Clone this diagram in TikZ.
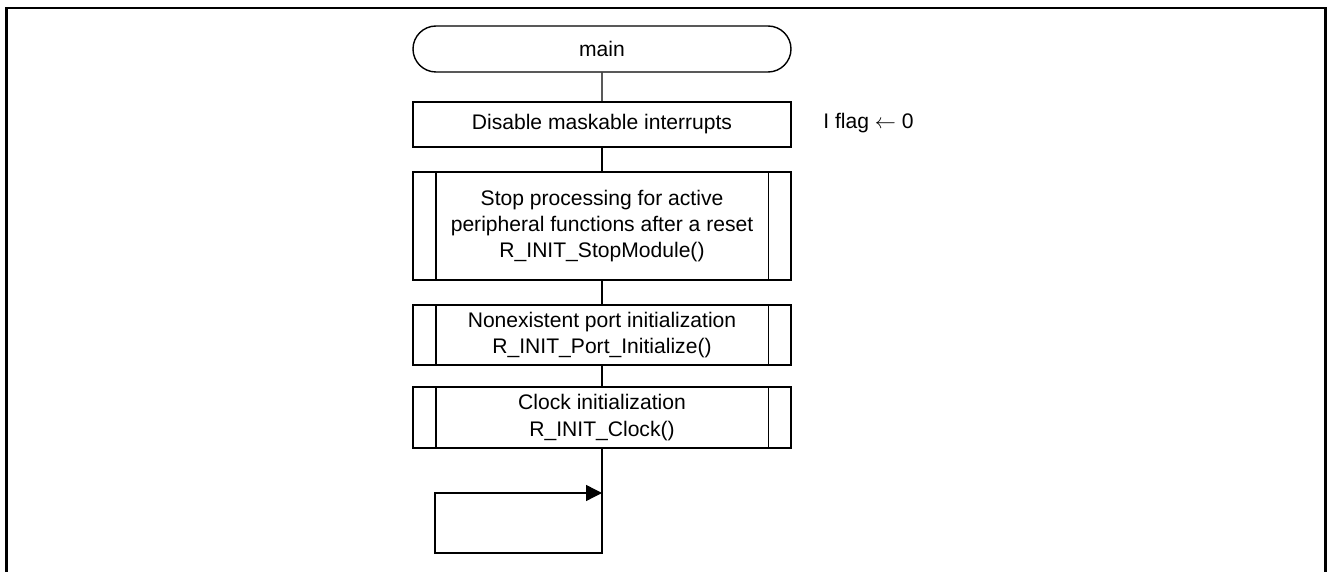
\documentclass[tikz,border=0pt]{standalone}
\usepackage{fontspec}
\setmainfont{Liberation Sans}
\usetikzlibrary{shapes.misc,arrows.meta}
\tikzset{
    flow/.style = {line width=0.8pt},
    frame/.style = {line width=1.7pt},
    term/.style={shape=rounded rectangle,draw=black,flow,minimum width=7.56cm,minimum height=0.92cm,inner sep=0},
    proc/.style={shape=rectangle,draw=black,flow,minimum width=7.56cm,inner sep=0,align=center},
    sub/.style={proc}
}

\begin{document}
\begin{tikzpicture}[>={Triangle[length=0.32cm,width=0.32cm]},font=\fontsize{12}{14.9}\selectfont]
    \useasboundingbox (0,0) rectangle (26.6,-11.44);
    \draw[frame] (0.13,-11.44) -- (0.13,-0.16) -- (26.51,-0.16) -- (26.51,-11.44);

    \node[term] (main) at (12.04,-0.98) {main};
    \node[proc, minimum height=0.9cm] (dis) at (12.04,-2.49) {Disable maskable interrupts};
    \node[sub, minimum height=2.16cm] (stop) at (12.04,-4.52) {Stop processing for active\\peripheral functions after a reset\\R\_INIT\_StopModule()};
    \node[sub, minimum height=1.2cm] (port) at (12.04,-6.70) {Nonexistent port initialization\\R\_INIT\_Port\_Initialize()};
    \node[sub, minimum height=1.22cm] (clock) at (12.04,-8.35) {Clock initialization\\R\_INIT\_Clock()};
    \node[anchor=west, inner sep=0] (iflag) at (16.46,-2.47) {I flag $\leftarrow$ 0};

    % side bars of the subroutine boxes
    \foreach \n in {stop,port,clock} {
        \draw[flow] ([xshift=0.47cm]\n.north west) -- ([xshift=0.47cm]\n.south west);
        \draw[flow] ([xshift=-0.47cm]\n.north east) -- ([xshift=-0.47cm]\n.south east);
    }

    \draw[flow] (main) -- (dis);
    \draw[flow] (dis) -- (stop);
    \draw[flow] (stop) -- (port);
    \draw[flow] (port) -- (clock);

    % endless loop
    \coordinate (loopL) at (8.70,-11.06);
    \coordinate (loopT) at (12.04,-9.86);
    \draw[flow,->] (clock.south) |- (loopL) |- (loopT);
\end{tikzpicture}
\end{document}
